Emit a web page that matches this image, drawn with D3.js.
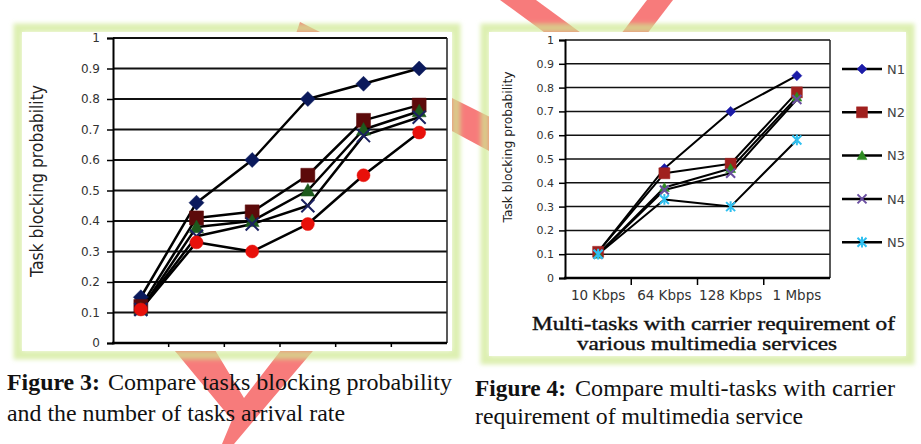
<!DOCTYPE html>
<html>
<head>
<meta charset="utf-8">
<script src="https://cdn.jsdelivr.net/npm/d3@7"></script>
<style>
  body { margin: 0; background: #fff; }
  svg { display: block; }
</style>
</head>
<body>
<div id="chart"></div>
<script>
// ---- data ----
const yTicks = [0, 0.1, 0.2, 0.3, 0.4, 0.5, 0.6, 0.7, 0.8, 0.9, 1];
const seriesNames = ["N1", "N2", "N3", "N4", "N5"];

// figure 3: six arrival-rate steps (no labels on the axis)
const fig3Steps = [1, 2, 3, 4, 5, 6];
const fig3N1 = [0.15, 0.46, 0.60, 0.80, 0.85, 0.90];
const fig3N2 = [0.12, 0.41, 0.43, 0.55, 0.73, 0.78];
const fig3N3 = [0.11, 0.38, 0.40, 0.50, 0.70, 0.76];
const fig3N4 = [0.11, 0.35, 0.39, 0.45, 0.68, 0.74];
const fig3N5 = [0.11, 0.33, 0.30, 0.39, 0.55, 0.69];

// figure 4: carrier requirement of the services
const fig4Services = ["10 Kbps", "64 Kbps", "128 Kbps", "1 Mbps"];
const fig4N1 = [0.11, 0.46, 0.70, 0.85];
const fig4N2 = [0.11, 0.44, 0.48, 0.78];
const fig4N3 = [0.10, 0.38, 0.46, 0.76];
const fig4N4 = [0.10, 0.37, 0.44, 0.75];
const fig4N5 = [0.10, 0.33, 0.30, 0.58];

const W = 921, H = 444;

const svg = d3.select("#chart").append("svg")
  .attr("width", W)
  .attr("height", H);

svg.append("rect").attr("width", W).attr("height", H).attr("fill", "#fff");

const defs = svg.append("defs");
defs.append("filter").attr("id", "glow")
  .attr("x", "-5%").attr("y", "-5%").attr("width", "110%").attr("height", "110%")
  .append("feGaussianBlur").attr("stdDeviation", 2.2);

const frames = [
  { x: 18, y: 28, w: 438, h: 327 },
  { x: 485, y: 28, w: 425, h: 332 }
];

// red watermark first, the figures sit on top of it
const wm = svg.append("g").attr("fill", "#f77b7b");
[
  "M500,0L536,0L618,60L582,60Z",
  "M647,0L673,0L627,60L601,60Z",
  "M300,22L530,137L515,165L292,45Z",
  "M170,345L212,345L244,398L285,345L318,345L250,425L234,444L222,444L232,420Z"
].forEach(p => wm.append("path").attr("d", p));

// green glowing frames
svg.append("g").selectAll("rect").data(frames).join("rect")
  .attr("x", d => d.x).attr("y", d => d.y)
  .attr("width", d => d.w).attr("height", d => d.h)
  .attr("fill", "none")
  .attr("stroke", "#cfe890")
  .attr("stroke-opacity", 0.7)
  .attr("stroke-width", 9)
  .attr("filter", "url(#glow)");

// white plot panels
svg.append("g").selectAll("rect").data(frames).join("rect")
  .attr("x", d => d.x + 4).attr("y", d => d.y + 4)
  .attr("width", d => d.w - 8).attr("height", d => d.h - 8)
  .attr("fill", "#fff");

// marker shapes
const markerPath = {
  diamond: s => `M0,${-s}L${s},0L0,${s}L${-s},0Z`,
  square: s => `M${-s},${-s}H${s}V${s}H${-s}Z`,
  triangle: s => `M0,${-s}L${s},${s * 0.8}L${-s},${s * 0.8}Z`,
  circle: s => `M${s},0A${s},${s} 0 1,1 ${-s},0A${s},${s} 0 1,1 ${s},0Z`,
  x: s => `M${-s},${-s}L${s},${s}M${s},${-s}L${-s},${s}`,
  asterisk: s => `M${-s},${-s}L${s},${s}M${s},${-s}L${-s},${s}M0,${-s * 1.2}V${s * 1.2}`
};
const strokeOnly = new Set(["x", "asterisk"]);

function drawChart(cfg) {
  const g = svg.append("g");
  const x = d3.scaleBand().domain(cfg.categories).range([cfg.left, cfg.right]);
  const y = d3.scaleLinear().domain([0, 1]).range([cfg.bottom, cfg.top]);

  // gridlines
  g.append("g").selectAll("line").data(yTicks.filter(d => d > 0)).join("line")
    .attr("x1", cfg.left).attr("x2", cfg.right)
    .attr("y1", d => y(d)).attr("y2", d => y(d))
    .attr("stroke", "#111").attr("stroke-width", cfg.gridWidth);

  // right border
  g.append("line")
    .attr("x1", cfg.right).attr("x2", cfg.right)
    .attr("y1", cfg.top).attr("y2", cfg.bottom)
    .attr("stroke", "#222").attr("stroke-width", 1.5);

  // y axis
  const yAxis = g.append("g")
    .attr("transform", `translate(${cfg.left},0)`)
    .call(d3.axisLeft(y).tickValues(yTicks).tickSize(6).tickPadding(cfg.tickPad)
      .tickFormat(d => String(d)));
  yAxis.select(".domain").attr("stroke", "#000").attr("stroke-width", 2);
  yAxis.selectAll(".tick line").attr("stroke", "#000").attr("stroke-width", 1.5);
  yAxis.selectAll(".tick text")
    .attr("fill", "#333")
    .style("font-family", "DejaVu Sans")
    .style("font-size", cfg.tickFont + "px");

  // x axis line and boundary ticks
  g.append("line")
    .attr("x1", cfg.left - 1).attr("x2", cfg.right)
    .attr("y1", cfg.bottom).attr("y2", cfg.bottom)
    .attr("stroke", "#000").attr("stroke-width", 2.5);
  g.append("g").selectAll("line").data(cfg.categories.slice(1)).join("line")
    .attr("x1", d => x(d)).attr("x2", d => x(d))
    .attr("y1", cfg.bottom).attr("y2", cfg.bottom + cfg.xTickLen)
    .attr("stroke", "#000").attr("stroke-width", 1.5);

  if (cfg.showXLabels) {
    const xAxis = g.append("g")
      .attr("transform", `translate(0,${cfg.bottom})`)
      .call(d3.axisBottom(x).tickSize(0).tickPadding(12));
    xAxis.select(".domain").remove();
    xAxis.selectAll(".tick text")
      .attr("fill", "#333")
      .style("font-family", "DejaVu Sans")
      .style("font-size", "13.5px");
  }

  // series
  const line = d3.line().x((d, i) => x(cfg.categories[i]) + x.bandwidth() / 2).y(d => y(d));
  cfg.series.forEach(s => {
    g.append("path")
      .datum(s.values)
      .attr("d", line)
      .attr("fill", "none")
      .attr("stroke", "#000")
      .attr("stroke-width", cfg.lineWidth)
      .attr("stroke-linejoin", "round");
  });
  cfg.series.forEach(s => {
    g.append("g").selectAll("path").data(s.values).join("path")
      .attr("transform", (d, i) => `translate(${x(cfg.categories[i]) + x.bandwidth() / 2},${y(d)})`)
      .attr("d", markerPath[s.shape](s.size))
      .attr("fill", strokeOnly.has(s.shape) ? "none" : s.color)
      .attr("stroke", s.color)
      .attr("stroke-width", strokeOnly.has(s.shape) ? 2 : 0.5);
  });

  // y title
  g.append("text")
    .attr("transform", "rotate(-90)")
    .attr("x", -cfg.yTitle.cy)
    .attr("y", cfg.yTitle.x)
    .attr("text-anchor", "middle")
    .attr("textLength", cfg.yTitle.len)
    .attr("lengthAdjust", "spacingAndGlyphs")
    .attr("fill", "#222")
    .style("font-family", "DejaVu Sans")
    .style("font-size", cfg.yTitle.size + "px")
    .text("Task blocking probability");

  return { g, x, y };
}

drawChart({
  categories: fig3Steps,
  left: 113, right: 447, top: 38, bottom: 343,
  gridWidth: 2, lineWidth: 2.5, tickFont: 12, tickPad: 7, xTickLen: 4,
  showXLabels: false,
  yTitle: { x: 43, cy: 181, len: 192, size: 17 },
  series: [
    { name: seriesNames[0], values: fig3N1, shape: "diamond", color: "#0b1a5c", size: 7.5 },
    { name: seriesNames[1], values: fig3N2, shape: "square", color: "#5c0a0a", size: 7 },
    { name: seriesNames[2], values: fig3N3, shape: "triangle", color: "#1d5a1d", size: 7 },
    { name: seriesNames[3], values: fig3N4, shape: "x", color: "#1a2060", size: 6.5 },
    { name: seriesNames[4], values: fig3N5, shape: "circle", color: "#e8100a", size: 6.5 }
  ]
});

const fig4Series = [
  { name: seriesNames[0], values: fig4N1, shape: "diamond", color: "#1c1ca8", size: 5 },
  { name: seriesNames[1], values: fig4N2, shape: "square", color: "#a0201e", size: 5.5 },
  { name: seriesNames[2], values: fig4N3, shape: "triangle", color: "#2e8b22", size: 5 },
  { name: seriesNames[3], values: fig4N4, shape: "x", color: "#6a4ea0", size: 4.5 },
  { name: seriesNames[4], values: fig4N5, shape: "asterisk", color: "#30c0f0", size: 4.5 }
];

drawChart({
  categories: fig4Services,
  left: 565, right: 830, top: 40, bottom: 278,
  gridWidth: 1.5, lineWidth: 2, tickFont: 11, tickPad: 5, xTickLen: 7,
  showXLabels: true,
  yTitle: { x: 512, cy: 147, len: 151, size: 13 },
  series: fig4Series
});

// legend for figure 4
const legend = svg.append("g").selectAll("g").data(fig4Series).join("g")
  .attr("transform", (d, i) => `translate(842,${69 + i * 43.3})`);
legend.append("line")
  .attr("x1", 0).attr("x2", 40)
  .attr("stroke", "#000").attr("stroke-width", 2.5);
legend.append("path")
  .attr("transform", "translate(20,0)")
  .attr("d", d => markerPath[d.shape](d.size))
  .attr("fill", d => strokeOnly.has(d.shape) ? "none" : d.color)
  .attr("stroke", d => d.color)
  .attr("stroke-width", d => strokeOnly.has(d.shape) ? 2 : 0.5);
legend.append("text")
  .attr("x", 45).attr("dy", "0.36em")
  .attr("fill", "#444")
  .style("font-family", "DejaVu Sans")
  .style("font-size", "13px")
  .text(d => d.name);

// figure 4 x title (medium weight serif)
const xTitle = [
  { text: "Multi-tasks with carrier requirement of", x: 532, y: 330, len: 363 },
  { text: "various multimedia services", x: 577, y: 350, len: 260 }
];
svg.append("g").selectAll("text").data(xTitle).join("text")
  .attr("x", d => d.x).attr("y", d => d.y)
  .attr("textLength", d => d.len)
  .attr("lengthAdjust", "spacingAndGlyphs")
  .attr("fill", "#111")
  .attr("stroke", "#111")
  .attr("stroke-width", 0.4)
  .style("font-family", "'Liberation Serif', serif")
  .style("font-size", "19px")
  .text(d => d.text);

// captions
const captions = [
  { text: "Figure 3:", bold: true, x: 7, y: 390, len: 93 },
  { text: "Compare tasks blocking probability", bold: false, x: 108, y: 390, len: 344 },
  { text: "and the number of tasks arrival rate", bold: false, x: 7, y: 421, len: 338 },
  { text: "Figure 4:", bold: true, x: 475, y: 396, len: 91 },
  { text: "Compare multi-tasks with carrier", bold: false, x: 575, y: 396, len: 320 },
  { text: "requirement of multimedia service", bold: false, x: 475, y: 424, len: 328 }
];
svg.append("g").selectAll("text").data(captions).join("text")
  .attr("x", d => d.x).attr("y", d => d.y)
  .attr("textLength", d => d.len)
  .attr("lengthAdjust", "spacingAndGlyphs")
  .attr("fill", "#111")
  .style("font-family", "'Liberation Serif', serif")
  .style("font-weight", d => d.bold ? "bold" : "normal")
  .style("font-size", "23px")
  .text(d => d.text);
</script>
</body>
</html>
